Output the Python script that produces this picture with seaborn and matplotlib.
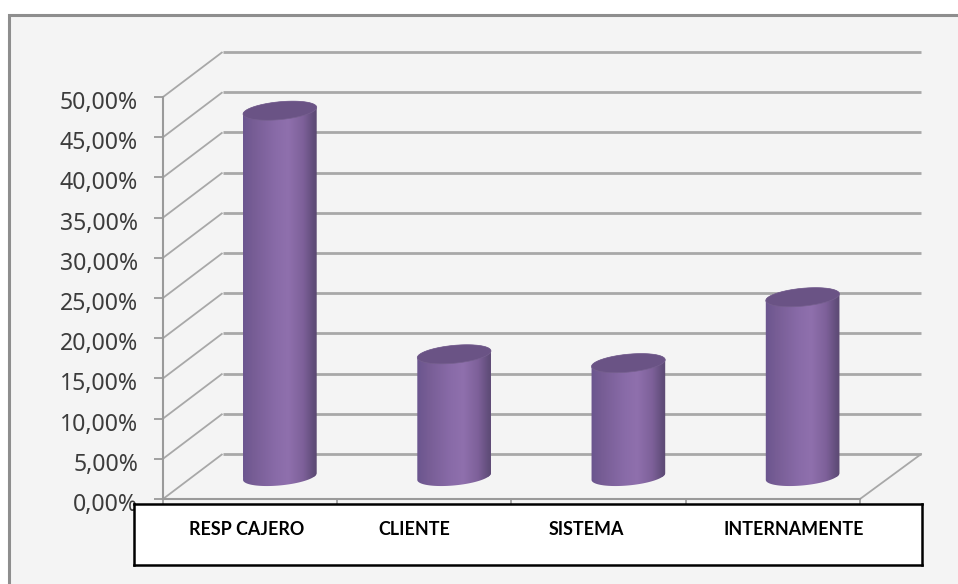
import numpy as np
import pandas as pd
import matplotlib
matplotlib.use("Agg")
import matplotlib.pyplot as plt
from matplotlib.colors import LinearSegmentedColormap
from matplotlib.patches import PathPatch, Polygon, Rectangle
from matplotlib.path import Path
from matplotlib.transforms import ScaledTranslation
import seaborn as sns

categories = ["RESP CAJERO", "CLIENTE", "SISTEMA", "INTERNAMENTE"]
values = [45.5, 15.2, 14.1, 22.3]
y_ticks = [0, 5, 10, 15, 20, 25, 30, 35, 40, 45, 50]
label_centres_px = [247, 414, 586, 794]

W, H = 958, 584
sns.set_style("white")
plt.rcParams["font.family"] = ["DejaVu Sans"]
fig = plt.figure(figsize=(W / 100, H / 100), dpi=100, facecolor="white")


def px_axes(x0, y_top, x1, y_bot, **kw):
    return fig.add_axes([x0 / W, 1 - y_bot / H, (x1 - x0) / W, (y_bot - y_top) / H], **kw)


# outer panel: frame runs off the right and bottom of the picture
fig.add_artist(Rectangle((9 / W, -0.05), 1.05, 1.05 - 15 / H, transform=fig.transFigure,
                         facecolor="#f4f4f4", edgecolor="#8e8e8e", linewidth=2.2))

GREY = "#a8a8a8"
PX_X = (860 - 163) / 4  # px per category
PX_Y = (499 - 97) / 50  # px per percentage point
DEPTH_X, DEPTH_Y = 59.5, 45

# front plane: axis, ticks, labels, and the walls that recede from it
front = px_axes(163, 97, 860, 499, facecolor="none", zorder=1)
front.set_xlim(-0.5, 3.5)
front.set_ylim(0, 50)
for s in ("top", "right"):
    front.spines[s].set_visible(False)
for s in ("left", "bottom"):
    front.spines[s].set_color("#9a9a9a")
    front.spines[s].set_linewidth(1.5)
front.set_yticks(y_ticks)
front.set_yticklabels([f"{v:.2f}".replace(".", ",") + "%" for v in y_ticks],
                      fontsize=16.6, color="#3c3c3c", family="Noto Sans")
front.set_xticks(np.arange(-0.5, 4.0, 1.0))
front.set_xticklabels([])
front.tick_params(axis="y", left=True, length=6.5, width=1.3, color="#9a9a9a", pad=11.5)
front.tick_params(axis="x", bottom=True, length=4, width=1.2, color="#9a9a9a")
shift = ScaledTranslation(0, -3 / 100, fig.dpi_scale_trans)
for lab in front.get_yticklabels():
    lab.set_transform(lab.get_transform() + shift)
dx, dy = DEPTH_X / PX_X, DEPTH_Y / PX_Y
for v in y_ticks:
    front.plot([-0.5, -0.5 + dx], [v, v + dy], color=GREY, lw=1.3, clip_on=False,
               solid_capstyle="butt")
    front.plot([-0.5 + dx, 3.5 + dx + 0.01], [v + dy, v + dy], color=GREY, lw=2.0, clip_on=False,
               solid_capstyle="butt")
front.plot([3.5, 3.5 + dx + 0.01], [0, dy], color=GREY, lw=1.3, clip_on=False)

# mid-depth plane: the cylinders stand here
mid = px_axes(163 + DEPTH_X / 2, 97 - DEPTH_Y / 2, 860 + DEPTH_X / 2, 499 - DEPTH_Y / 2,
              facecolor="none", zorder=2)
df = pd.DataFrame({"cat": categories, "val": values})
sns.barplot(data=df, x="cat", y="val", ax=mid, width=73 / PX_X, color="#8467a4",
            saturation=1, linewidth=0)
mid.set_xlim(-0.5, 3.5)
mid.set_ylim(0, 50)
mid.set_axis_off()

shade = LinearSegmentedColormap.from_list(
    "cyl", [(0.0, "#6a558e"), (0.15, "#775d95"), (0.45, "#896ba8"), (0.62, "#8f70ad"),
            (0.82, "#7d6099"), (0.95, "#624e7c"), (1.0, "#5c4a72")])
grad = np.linspace(0, 1, 256)[None, :]
TILT = np.deg2rad(5.5)
A_PX, B_PX = 37.0, 8.9


def ellipse(cx, cy, t):
    """Tilted ellipse in data units around (cx, cy); t in radians."""
    ex = A_PX * np.cos(t) * np.cos(TILT) - B_PX * np.sin(t) * np.sin(TILT)
    ey = A_PX * np.cos(t) * np.sin(TILT) + B_PX * np.sin(t) * np.cos(TILT)
    return cx + ex / PX_X, cy + ey / PX_Y


t_low = np.linspace(np.pi, 2 * np.pi, 60)
t_up = np.linspace(0, np.pi, 60)
t_all = np.linspace(0, 2 * np.pi, 120)
for bar in list(mid.patches):
    cx = bar.get_x() + bar.get_width() / 2
    h = bar.get_height()
    xb, yb = ellipse(cx, 0, t_low)
    xt, yt = ellipse(cx, h, t_up)
    pts = np.r_[np.c_[xb, yb], np.c_[xt, yt], [[xb[0], yb[0]]]]
    clip = PathPatch(Path(pts), transform=mid.transData, facecolor="none", edgecolor="none")
    bar.set_clip_path(clip)
    bar.set_clip_box(fig.bbox)
    half = (A_PX + 0.5) / PX_X
    im = mid.imshow(grad, cmap=shade, aspect="auto", interpolation="bilinear", zorder=3,
                    extent=(cx - half, cx + half, -3, h + 3))
    im.set_clip_path(clip)
    im.set_clip_box(fig.bbox)
    xc, yc = ellipse(cx, h, t_all)
    mid.add_patch(Polygon(np.c_[xc, yc], closed=True, facecolor="#6a5385",
                          edgecolor="#76608f", linewidth=0.5, zorder=4))
mid.set_xlim(-0.5, 3.5)
mid.set_ylim(0, 50)

# white box of category names, laid over the axis
box = px_axes(134, 504, 922, 565, facecolor="white", zorder=3)
box.set_xlim(134, 922)
box.set_ylim(565, 504)
box.set_xticks([])
box.set_yticks([])
for s in box.spines.values():
    s.set_visible(True)
    s.set_color("black")
    s.set_linewidth(1.8)
for name, x in zip(categories, label_centres_px):
    box.text(x, 529.5, name, ha="center", va="center", fontsize=12.9, fontweight="bold",
             family="Lato", color="#000000")

fig.savefig("out.png", dpi=100, facecolor="white")
